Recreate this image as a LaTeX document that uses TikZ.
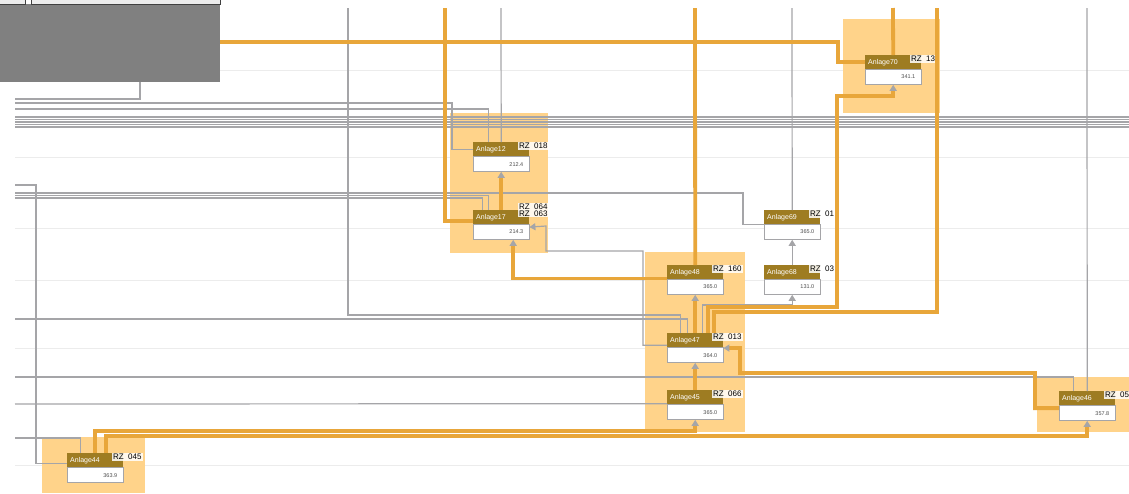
\documentclass[tikz,border=0pt]{standalone}
\usepackage{fontspec}
\setmainfont{Liberation Sans}
\usetikzlibrary{arrows.meta}

\definecolor{anlgold}{RGB}{158,124,34}
\definecolor{floworange}{RGB}{232,166,58}
\definecolor{hilite}{RGB}{255,211,138}
\definecolor{linkgray}{RGB}{165,165,168}
\definecolor{gridgray}{RGB}{236,236,236}
\definecolor{panelgray}{RGB}{128,128,128}

\tikzset{
  hdr/.style={fill=anlgold, text=white, anchor=north west, minimum width=56pt, minimum height=14pt,
    text width=50pt, inner sep=0pt, align=left, font=\fontsize{7}{7.5}\selectfont},
  valbox/.style={draw=linkgray, fill=white, anchor=north west, minimum width=56pt, minimum height=15pt,
    text width=44pt, inner sep=0pt, align=right, text=black!70, font=\fontsize{5.5}{6}\selectfont},
  rzlabel/.style={fill=white, fill opacity=0.85, text opacity=1, anchor=north west,
    inner xsep=1.5pt, inner ysep=1pt, font=\fontsize{8}{8.5}\selectfont},
  link/.style={draw=linkgray, line width=1.2pt},
  flow/.style={draw=floworange, line width=3.8pt},
  uparr/.style={-{Triangle[length=6pt,width=7pt,color=linkgray]}},
  gridline/.style={draw=gridgray, line width=0.8pt},
  hibox/.style={fill=hilite}
}

\begin{document}
\begin{tikzpicture}[x=1pt,y=1pt,yscale=-1]
\useasboundingbox (0,0) rectangle (1129,493);
\fill[white] (0,0) rectangle (1129,493);

% faint rows
\foreach \gy in {70,157,228,280,348,465}
  \draw[gridline] (15,\gy) -- (1129,\gy);

% highlighted groups
\fill[hibox] (450,113) rectangle (548,253);
\fill[hibox] (645,252) rectangle (745,432);
\fill[hibox] (843,19) rectangle (940,113);
\fill[hibox] (1037,377) rectangle (1129,432);
\fill[hibox] (42,437) rectangle (145,493);

% Anlage boxes
\foreach \an/\px/\py/\rzn/\val in {12/473/142/018/212.4, 69/764/210/01/365.0, 68/764/265/03/131.0,
    48/667/265/160/365.0, 47/667/333/013/364.0, 45/667/390/066/365.0,
    70/865/55/13/341.1, 46/1059/391/05/357.8, 44/67/453/045/363.9}{
  \node[hdr] (h\an) at (\px,\py) {Anlage\an};
  \node[valbox] (v\an) at (h\an.south west) {\val};
  \node[rzlabel] (r\an) at ([xshift=-12pt]h\an.north east) {RZ\ \ \rzn};
}
\node[hdr] (h17) at (473,210) {Anlage17};
\node[valbox] (v17) at (h17.south west) {214.3};
\node[rzlabel, anchor=south west, align=left, inner ysep=0.5pt, font=\fontsize{8}{7}\selectfont]
  (r17) at ([xshift=-12pt,yshift=7pt]h17.north east) {RZ\ \ 064\\RZ\ \ 063};

% free ends at the top
\coordinate (top348) at (348,8);
\coordinate (top445) at (445,8);
\coordinate (top500) at (501,8);
\coordinate (top695) at (695,8);
\coordinate (top792) at (792,8);
\coordinate (top893) at (893,8);
\coordinate (top937) at (937,8);
\coordinate (top1087) at (1087,8);

% gray links
\draw[link] (140,82) -- (140,99) -- (15,99);
\foreach \gy in {117,119.5,122,124.5,127}
  \draw[link] (15,\gy) -- (1129,\gy);
\draw[link] (15,103) -| ([xshift=-21pt]h12.west) -- (h12.west);
\draw[link] (15,109) -| ([xshift=-13pt]h12.north);
\draw[link] (top500) -- (h12.north);
\draw[link] (15,185) -- (36,185) |- ([yshift=3pt]h44.west);
\draw[link] (15,193) -- (743,193) |- (h69.south west);
\draw[link] (15,195.5) -| ([xshift=-13pt]h17.north);
\draw[link] (15,198) -| ([xshift=-19pt]h17.north);
\draw[link] (top348) -- (348,315) -| ([xshift=-15pt]h47.north);
\draw[link] (15,319) -| ([xshift=-8pt]h47.north);
\draw[link, uparr] ([yshift=5pt]h47.west) -| (643,251) -| (546,226) -- ([yshift=-5pt]v17.east);
\draw[link, uparr] ([xshift=7pt]h47.north) -- ++(0,-28) -| (v68.south);
\draw[link, uparr] (h68.north) -- (v69.south);
\draw[link] (top792) -- (h69.north);
\draw[link] (top1087) -- (h46.north);
\draw[link] (15,377) -| ([xshift=-14pt]h46.north);
\draw[link] (15,404) -- ([yshift=6.5pt]h45.west);
\draw[link] (15,438) -| ([xshift=-15pt]h44.north);

% orange flows
\draw[flow] (200,42) -| ([xshift=-27pt]h70.west) -- (h70.west);
\draw[flow] (top893) -- (h70.north);
\draw[flow] (top445) |- ([yshift=4pt]h17.west);
\draw[flow, uparr] (h17.north) -- (v12.south);
\draw[flow, uparr] ([yshift=-1pt]h48.south west) -| ([xshift=12pt]v17.south);
\draw[flow] (top695) -- (h48.north);
\draw[flow, uparr] (h47.north) -- (v48.south);
\draw[flow, uparr] (h45.north) -- (v47.south);
\draw[flow, uparr] (h44.north) -- ++(0,-22) -| (v45.south);
\draw[flow, uparr] ([xshift=11pt]h44.north) -- ++(0,-17) -| (v46.south);
\draw[flow, uparr] ([xshift=13pt]h47.north) -- ++(0,-26) -| (837,96) -| (v70.south);
\draw[flow] (top937) -- (937,312) -| ([xshift=19pt]h47.north);
\draw[flow, uparr] ([yshift=-5pt]v46.west) -| (1035,373) -| (740,348) -- ([yshift=-7pt]v47.east);

% panel in the corner
\fill[panelgray] (0,4) rectangle (220,82);
\draw[black!75, fill=gray!15, line width=0.8pt] (-2,-2) rectangle (25,4);
\draw[black!75, fill=gray!15, line width=0.8pt] (31,-2) rectangle (220,4);
\end{tikzpicture}
\end{document}
